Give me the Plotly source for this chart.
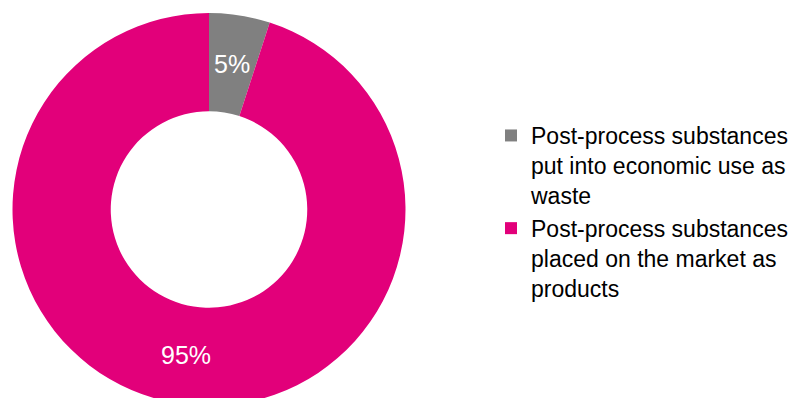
import math

import plotly.graph_objects as go

# Data
labels = [
    "Post-process substances<br>put into economic use as<br>waste",
    "Post-process substances<br>placed on the market as<br>products",
]
values = [5, 95]
colors = ["#808080", "#E2007A"]

W, H = 800, 398
TOP = 5
cx, r = 201, 196.5  # pie centre / radius in figure pixels
cy = TOP + r
plot_h = H - TOP

fig = go.Figure()
fig.add_trace(
    go.Pie(
        labels=labels,
        values=values,
        hole=0.5,
        sort=False,
        direction="clockwise",
        rotation=0,
        marker=dict(colors=colors, line=dict(width=0)),
        textinfo="none",
        domain=dict(x=[(cx - r) / W, (cx + r) / W], y=[0, 1]),
        hoverinfo="label+percent",
    )
)

# Percentage labels placed at the middle of the ring, at each slice's mid-angle
total = sum(values)
cum = 0
for v in values:
    mid = (cum + v / 2) / total
    cum += v
    ang = 2 * math.pi * mid
    rm = 0.75 * r
    px = cx + rm * math.sin(ang)
    py = cy - rm * math.cos(ang)
    fig.add_annotation(
        x=px / W,
        y=1 - (py - TOP) / plot_h,
        xref="paper",
        yref="paper",
        text=f"{v / total:.0%}",
        showarrow=False,
        font=dict(color="white", size=25, family="Liberation Sans, Arial"),
        xanchor="center",
        yanchor="middle",
    )

fig.update_layout(
    width=W,
    height=H,
    margin=dict(l=0, r=0, t=TOP, b=0, autoexpand=False),
    paper_bgcolor="white",
    plot_bgcolor="white",
    font=dict(family="Liberation Sans, Arial", size=23, color="#000000"),
    showlegend=True,
    legend=dict(
        x=483 / W,
        xanchor="left",
        y=0.743,
        yanchor="top",
        valign="top",
        bgcolor="rgba(0,0,0,0)",
        font=dict(size=23),
        itemclick=False,
    ),
)

fig.write_html("out.html")
